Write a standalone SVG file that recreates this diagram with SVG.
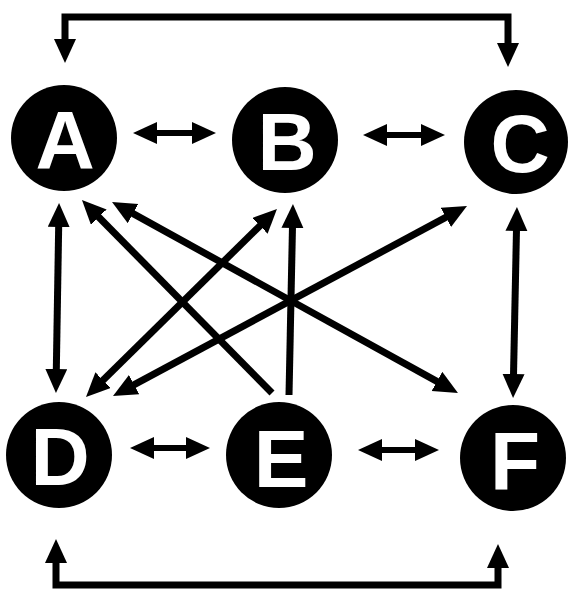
<svg xmlns="http://www.w3.org/2000/svg" width="570" height="590" viewBox="0 0 570 590">
<style>
.node circle{fill:#000}
.node text{fill:#fff;font-family:"Liberation Sans",Arial,sans-serif;font-weight:bold;font-size:82px;text-anchor:middle}
.c{fill:none;stroke:#000;stroke-width:7;stroke-linejoin:miter}
.h{stroke-width:6}
.d{marker-start:url(#ah);marker-end:url(#ah)}
.s{marker-end:url(#ah)}
</style>
<defs>
<marker id="ah" markerUnits="userSpaceOnUse" markerWidth="30" markerHeight="30" refX="2" refY="11" orient="auto-start-reverse">
<path d="M0,0 L24,11 L0,22 z" fill="#000"/>
</marker>
</defs>
<rect width="570" height="590" fill="#fff"/>
<g id="connectors">
<path class="c d" d="M65,41 V17 H508 V45"/>
<path class="c d" d="M56,561 V585 H498 V566"/>
<path class="c h d" d="M155,133 H194"/>
<path class="c h d" d="M385,135 H423"/>
<path class="c h d" d="M152,448 H188"/>
<path class="c h d" d="M380,450 H417"/>
<path class="c d" d="M58.7,225 L56.3,371"/>
<path class="c s" d="M272,393 L97.4,215.7"/>
<path class="c d" d="M131.3,212.6 L438.7,382.4"/>
<path class="c d" d="M101.7,381.6 L261.3,224.4"/>
<path class="c d" d="M132.4,385.6 L447.6,216.4"/>
<path class="c s" d="M289,395 L292.5,226"/>
<path class="c d" d="M516.5,229 L513.5,376"/>
</g>
<g id="A" class="node"><circle cx="64" cy="138" r="53"/><text x="65" y="168">A</text></g>
<g id="B" class="node"><circle cx="285" cy="140" r="53"/><text x="287" y="170">B</text></g>
<g id="C" class="node"><circle cx="516" cy="142" r="52"/><text x="520" y="172">C</text></g>
<g id="D" class="node"><circle cx="59" cy="455" r="53"/><text x="60" y="485">D</text></g>
<g id="E" class="node"><circle cx="279" cy="455" r="53"/><text x="281" y="487">E</text></g>
<g id="F" class="node"><circle cx="513" cy="458" r="53"/><text x="515" y="490">F</text></g>
</svg>
